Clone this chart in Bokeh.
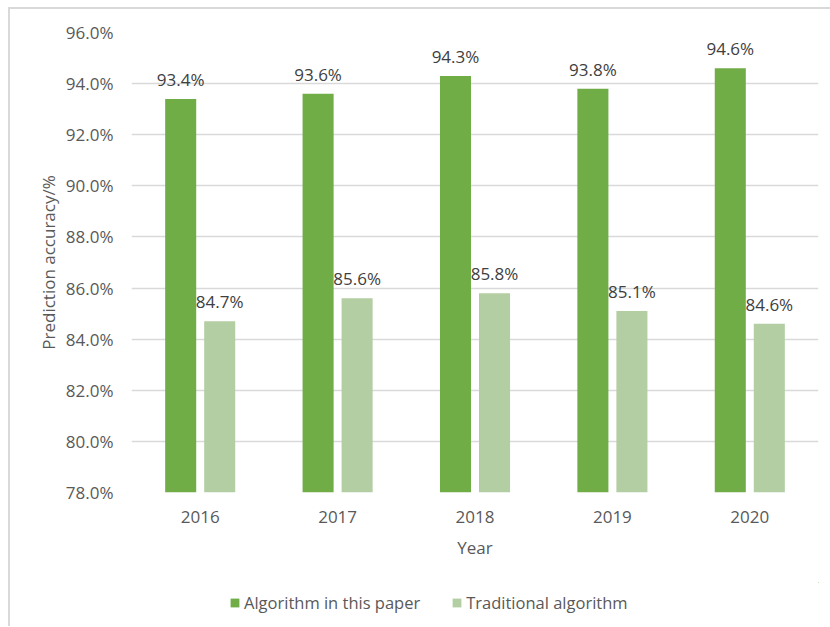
from bokeh.plotting import figure
from bokeh.models import ColumnDataSource, FixedTicker, PrintfTickFormatter, LabelSet, Legend, LegendItem, Range1d, FactorRange
from bokeh.layouts import column
from bokeh.transform import dodge
from bokeh.core.properties import value
from bokeh.embed import file_html
from bokeh.resources import INLINE

years = ["2016", "2017", "2018", "2019", "2020"]
ours = [93.4, 93.6, 94.3, 93.8, 94.6]
traditional = [84.7, 85.6, 85.8, 85.1, 84.6]
y_ticks = [78, 80, 82, 84, 86, 88, 90, 92, 94, 96]
series_names = ["Algorithm in this paper", "Traditional algorithm"]

FONT = "Open Sans"
TXT = "#595959"
DARK = "#70AD47"
LIGHT = "#B3CEA3"

src = ColumnDataSource(dict(
    years=years, ours=ours, trad=traditional,
    ours_lbl=[f"{v:.1f}%" for v in ours],
    trad_lbl=[f"{v:.1f}%" for v in traditional],
))

p = figure(x_range=years, y_range=Range1d(78, 96), width=820, height=573,
           output_backend="svg", toolbar_location=None,
           min_border_left=121, min_border_right=12, min_border_top=23, min_border_bottom=90)
p.outline_line_color = None
p.background_fill_color = "white"
p.border_fill_color = "white"

r1 = p.vbar(x=dodge("years", -0.142, range=p.x_range), top="ours", bottom=78, width=0.226,
            source=src, fill_color=DARK, line_color=None)
r2 = p.vbar(x=dodge("years", 0.142, range=p.x_range), top="trad", bottom=78, width=0.226,
            source=src, fill_color=LIGHT, line_color=None)

for col, lbl, off in (("ours", "ours_lbl", -0.142), ("trad", "trad_lbl", 0.142)):
    ls = LabelSet(x=dodge("years", off, range=p.x_range), y=col, text=lbl, source=src,
                  text_align="center", text_baseline="bottom", y_offset=8,
                  text_font=value(FONT), text_font_size="17px", text_color="#404040")
    p.add_layout(ls)

p.yaxis.ticker = FixedTicker(ticks=y_ticks)
p.yaxis.formatter = PrintfTickFormatter(format="%.1f%%")
p.ygrid.ticker = FixedTicker(ticks=y_ticks)
p.ygrid.grid_line_color = "#d9d9d9"
p.ygrid.grid_line_width = 1.5
p.xgrid.grid_line_color = None

for ax in (p.xaxis[0], p.yaxis[0]):
    ax.axis_line_color = None
    ax.major_tick_line_color = None
    ax.minor_tick_line_color = None
    ax.major_label_text_font = FONT
    ax.major_label_text_font_size = "17px"
    ax.major_label_text_color = TXT
    ax.axis_label_text_font = FONT
    ax.axis_label_text_font_size = "17px"
    ax.axis_label_text_color = TXT
    ax.axis_label_text_font_style = "normal"

p.yaxis.axis_label = "Prediction accuracy/%"
p.yaxis.major_label_standoff = 12
p.yaxis.axis_label_standoff = 3
p.xaxis.axis_label = "Year"
p.xaxis.major_label_standoff = 12
p.xaxis.axis_label_standoff = 10

# legend strip: proxy bars from the same data, placed outside the strip's visible ranges
lg = figure(width=820, height=44, output_backend="svg", toolbar_location=None,
            x_range=FactorRange(factors=years), y_range=Range1d(0, 1), min_border=0)
lg.axis.visible = False
lg.grid.visible = False
lg.outline_line_color = None
g1 = lg.vbar(x=dodge("years", 20, range=lg.x_range), top="ours", bottom=78, width=0.001,
             source=src, fill_color=DARK, line_color=None)
g2 = lg.vbar(x=dodge("years", 20, range=lg.x_range), top="trad", bottom=78, width=0.001,
             source=src, fill_color=LIGHT, line_color=None)
legend = Legend(items=[LegendItem(label=series_names[0], renderers=[g1], index=0),
                       LegendItem(label=series_names[1], renderers=[g2], index=0)],
                orientation="horizontal", location=(98, 12),
                label_text_font=FONT, label_text_font_size="16.5px", label_text_color=TXT,
                glyph_width=11, glyph_height=11, label_standoff=4, spacing=31,
                border_line_color=None, background_fill_alpha=0, padding=4, margin=0)
lg.add_layout(legend, "center")

layout = column(p, lg, spacing=0)
layout.styles = {"border-left": "2px solid #d9d9d9", "border-top": "2px solid #d9d9d9",
                 "margin-left": "8px", "margin-top": "7px"}
open("out.html", "w").write(file_html(layout, INLINE))
